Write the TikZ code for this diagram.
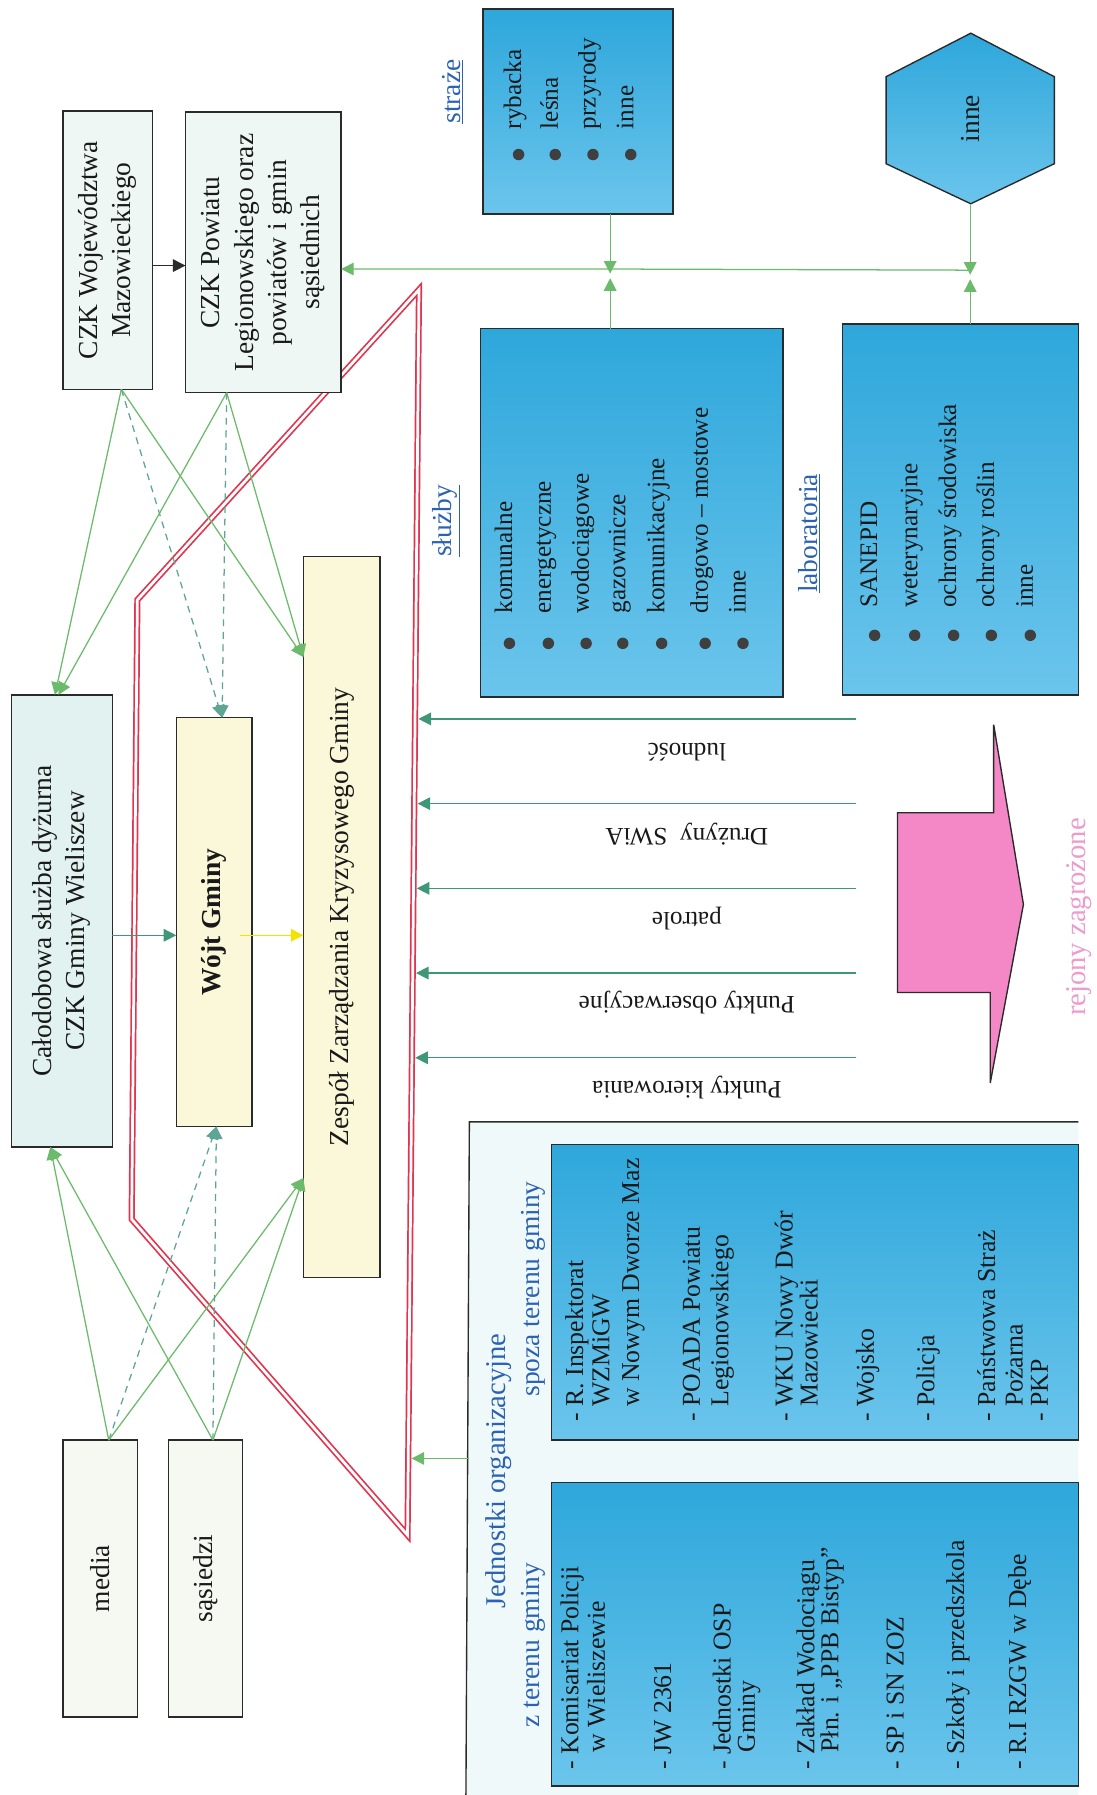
\documentclass[tikz,border=0pt]{standalone}
\usepackage{fontspec}
\setmainfont{Liberation Serif}
\usetikzlibrary{arrows.meta,calc}
\definecolor{lgreen}{HTML}{6CBA6C}
\definecolor{tgreen}{HTML}{3E9877}
\definecolor{dgreen}{HTML}{5EA596}
\definecolor{redl}{HTML}{E0344F}
\definecolor{bluetop}{HTML}{2EA7DB}
\definecolor{bluebot}{HTML}{6BC5EC}
\definecolor{labblue}{HTML}{2B62B2}
\definecolor{pinkf}{HTML}{F487C6}
\definecolor{pinkt}{HTML}{EC9BCF}
\definecolor{paley}{HTML}{FBF7D9}
\definecolor{palec}{HTML}{E2F2F0}
\definecolor{palecz}{HTML}{EEF7F3}
\definecolor{palew}{HTML}{F6F8F2}
\definecolor{jfill}{HTML}{F0F9F9}
\definecolor{edge}{HTML}{2A2A2A}
\definecolor{yarrow}{HTML}{F2E400}

\tikzset{
  box/.style={draw=edge, line width=1.2pt, inner sep=0pt, outer sep=0pt},
  bluebox/.style={box, top color=bluetop, bottom color=bluebot},
  bigtxt/.style={rotate=90, align=center, font=\fontsize{24}{29}\selectfont, inner sep=0pt, text=black!90},
  itemtxt/.style={rotate=90, anchor=mid west, font=\fontsize{22}{26}\selectfont, inner sep=0pt, text=black!90},
  jtxt/.style={rotate=90, anchor=mid west, font=\fontsize{22.5}{26}\selectfont, inner sep=0pt, text=black!90},
  updown/.style={rotate=180, font=\fontsize{22}{26}\selectfont, inner sep=0pt, text=black!90},
  sectlabel/.style={rotate=90, text=labblue, font=\fontsize{24}{28}\selectfont, inner sep=0pt},
  garrow/.style={draw=lgreen, line width=1.1pt, -{Triangle[length=11pt,width=11pt]}},
  gdash/.style={draw=dgreen, line width=1.1pt, dash pattern=on 6pt off 5pt, -{Triangle[length=11pt,width=11pt]}},
  tarrow/.style={draw=tgreen, line width=1.1pt, -{Triangle[length=11pt,width=11pt]}},
  dot/.style={circle, fill=edge!90, inner sep=0pt, minimum size=10pt},
  redwall/.style={draw=redl, double=white, double distance=2.4pt, line width=1.5pt, line join=miter},
}

\begin{document}
\begin{tikzpicture}[x=1pt,y=-1pt]
\useasboundingbox (0,0) rectangle (958,1568);
\fill[white] (0,0) rectangle (958,1568);

% ---------- red wall ----------
\coordinate (rtop) at (366,253);
\coordinate (rbot) at (356,1341);
\coordinate (rlb) at (115,1065);
\coordinate (rlt) at (120,524);
\draw[redwall] (rtop) -- (rbot) -- (rlb) -- (rlt) -- cycle;

% ---------- top boxes ----------
\node[box, fill=palecz, minimum width=78pt, minimum height=243pt] (woj) at (94,218.5) {};
\node[bigtxt] at (woj) {CZK Województwa\\Mazowieckiego};
\node[box, fill=palecz, minimum width=136pt, minimum height=245pt] (pow) at (230,220.5) {};
\node[bigtxt] at (pow) {CZK Powiatu\\Legionowskiego oraz\\powiatów i gmin\\sąsiednich};

% ---------- central column ----------
\node[box, fill=palec, minimum width=88pt, minimum height=395pt] (cal) at (54,804.5) {};
\node[bigtxt] at (cal) {Całodobowa służba dyżurna\\CZK Gminy Wieliszew};
\node[box, fill=paley, minimum width=66pt, minimum height=357pt] (wojt) at (187,805.5) {};
\node[bigtxt, font=\fontsize{24}{29}\selectfont\bfseries] at (wojt) {Wójt Gminy};
\node[box, fill=paley, minimum width=67pt, minimum height=630pt] (zesp) at (298.5,801) {};
\node[bigtxt] at (zesp) {Zespół Zarządzania Kryzysowego Gminy};

% ---------- bottom left ----------
\node[box, fill=palew, minimum width=65pt, minimum height=242pt] (media) at (87.5,1379) {};
\node[bigtxt] at (media) {media};
\node[box, fill=palew, minimum width=65pt, minimum height=242pt] (sas) at (179.5,1379) {};
\node[bigtxt] at (sas) {sąsiedzi};

% ---------- right top: straże, hexagon ----------
\node[sectlabel] at (395,80) {\underline{straże}};
\node[bluebox, minimum width=166pt, minimum height=179pt] (straze) at (505,97.5) {};
\foreach \x/\t in {453/rybacka,485/leśna,518/przyrody,551/inne}{
  \node[dot] at (\x,135) {};
  \node[itemtxt] at (\x,113) {\t};
}
\draw[box, top color=bluetop, bottom color=bluebot] (848,29) -- (921,67) -- (921,143) -- (848,178) -- (774,143) -- (774,67) -- cycle;
\node[inner sep=0pt, outer sep=0pt, minimum width=147pt, minimum height=149pt] (hexa) at (847.5,103.5) {};
\node[bigtxt] at (hexa.center) {inne};

% ---------- służby ----------
\node[sectlabel] at (390,455) {\underline{służby}};
\node[bluebox, minimum width=264pt, minimum height=322pt] (sluzby) at (552,448) {};
\foreach \x/\t in {445/komunalne,479/energetyczne,512/wodociągowe,544/gazownicze,578/komunikacyjne,616/drogowo – mostowe,649/inne}{
  \node[dot] at (\x,562) {};
  \node[itemtxt] at (\x,536) {\t};
}

% ---------- laboratoria ----------
\node[sectlabel] at (707,466) {\underline{laboratoria}};
\node[bluebox, minimum width=206pt, minimum height=324pt] (lab) at (839,445) {};
\foreach \x/\t in {764/SANEPID,799/weterynaryjne,833/ochrony środowiska,866/ochrony roślin,900/inne}{
  \node[dot] at (\x,555) {};
  \node[itemtxt] at (\x,531) {\t};
}

% ---------- junctions ----------
\coordinate (j1) at (533,235);
\coordinate (j1d) at (533,239);
\coordinate (j1u) at (533,243);
\coordinate (j2) at (847.5,236);
\coordinate (j2d) at (847.5,240);
\coordinate (j2u) at (847.5,244);
\draw[garrow] (j2) -- (j1) -- (pow.east |- j1);
\draw[garrow] (straze.south -| j1) -- (j1d);
\draw[garrow] (sluzby.north -| j1) -- (j1u);
\draw[garrow] (hexa.south) -- (j2d);
\draw[garrow] (lab.north -| j2) -- (j2u);

% ---------- top arrows ----------
\draw[draw=edge, line width=1.2pt, -{Triangle[length=11pt,width=11pt]}] ([yshift=-13.5pt]woj.east) -- ([yshift=-11.5pt]pow.west);
\draw[garrow] ([xshift=51pt]woj.south west) -- ([xshift=38pt]cal.north west);
\draw[gdash] ([xshift=51pt]woj.south west) -- ([xshift=40pt]wojt.north west);
\draw[garrow] ([xshift=51pt]woj.south west) -- ([yshift=-88pt]zesp.north west);
\draw[garrow] ([xshift=36pt]pow.south west) -- ([xshift=41pt]cal.north west);
\draw[gdash] ([xshift=36pt]pow.south west) -- ([xshift=40pt]wojt.north west);
\draw[garrow] ([xshift=36pt]pow.south west) -- ([yshift=-88pt]zesp.north west);

% ---------- bottom arrows ----------
\draw[garrow] ([xshift=40pt]media.north west) -- ([xshift=34pt]cal.south west);
\draw[gdash] ([xshift=40pt]media.north west) -- ([xshift=35pt]wojt.south west);
\draw[garrow] ([xshift=40pt]media.north west) -- ([yshift=87pt]zesp.south west);
\draw[garrow] ([xshift=39pt]sas.north west) -- ([xshift=34pt]cal.south west);
\draw[gdash] ([xshift=39pt]sas.north west) -- ([xshift=35pt]wojt.south west);
\draw[garrow] ([xshift=39pt]sas.north west) -- ([yshift=87pt]zesp.south west);

% ---------- central arrows ----------
\draw[tarrow] ([yshift=-12.5pt]cal.east) -- ([yshift=-11.5pt]wojt.west);
\draw[draw=yarrow, line width=1.1pt, -{Triangle[length=11pt,width=11pt]}] ([xshift=-10pt,yshift=-11.5pt]wojt.east) -- ([yshift=-16pt]zesp.west);

% ---------- label lines ----------
\foreach \y/\w/\ly/\t in {628/365.5/657/ludność,702/364.8/729/Drużyny~~SWiA,776/364.1/802/patrole,850/363.4/876/Punkty obserwacyjne,924/362.7/950/Punkty kierowania}{
  \coordinate (ls) at (748,\y);
  \coordinate (le) at (\w,\y);
  \draw[tarrow] (ls) -- (le);
  \node[updown] at (600,\ly) {\t};
}

% ---------- pink arrow ----------
\draw[draw=edge, line width=1.2pt, fill=pinkf, line join=miter] (784,710) -- (868,710) -- (868,633) -- (894,790) -- (865,946) -- (865,867) -- (784,867) -- cycle;
\node[rotate=90, text=pinkt, font=\fontsize{25}{29}\selectfont, inner sep=0pt] (rej) at (943,801) {rejony zagrożone};

% ---------- Jednostki ----------
\path[fill=jfill] (410,980) -- (942,980) -- (942,1568) -- (407,1568) -- cycle;
\draw[draw=edge, line width=1.2pt] (942,980) -- (410,980) -- (407,1568);
\node[inner sep=0pt, outer sep=0pt, minimum width=532pt, minimum height=588pt] (jedn) at (676,1274) {};
\coordinate (wallj) at (359.5,1274);
\draw[garrow] (jedn.west) -- (wallj);
\node[sectlabel, font=\fontsize{25}{29}\selectfont] at (436,1285) {Jednostki organizacyjne};
\node[sectlabel] at (466,1126) {spoza terenu gminy};
\node[sectlabel] at (466,1437) {z terenu gminy};

\node[bluebox, minimum width=460pt, minimum height=258pt] (spoza) at (712,1129) {};
\foreach \x/\y/\t in {507/1242/- R. Inspektorat,530/1229/WZMiGW,556/1229/w Nowym Dworze Maz,609/1242/- POADA Powiatu,634/1229/Legionowskiego,690/1242/- WKU Nowy Dwór,712/1229/Mazowiecki,761/1242/- Wojsko,814/1242/- Policja,867/1242/- Państwowa Straż,891/1229/Pożarna,913/1242/- PKP}{
  \node[jtxt] at (\x,\y) {\t};
}
\node[bluebox, minimum width=460pt, minimum height=265pt] (zter) at (712,1427.5) {};
\foreach \x/\y/\t in {503/1546/- Komisariat Policji,526/1531/w Wieliszewie,584/1546/- JW 2361,636/1546/- Jednostki OSP,657/1531/Gminy,709/1546/- Zakład Wodociągu,730/1531/Płn. i „PPB Bistyp”,787/1546/- SP i SN ZOZ,840/1546/- Szkoły i przedszkola,894/1546/- R.I RZGW w Dębe}{
  \node[jtxt] at (\x,\y) {\t};
}
\end{tikzpicture}
\end{document}
